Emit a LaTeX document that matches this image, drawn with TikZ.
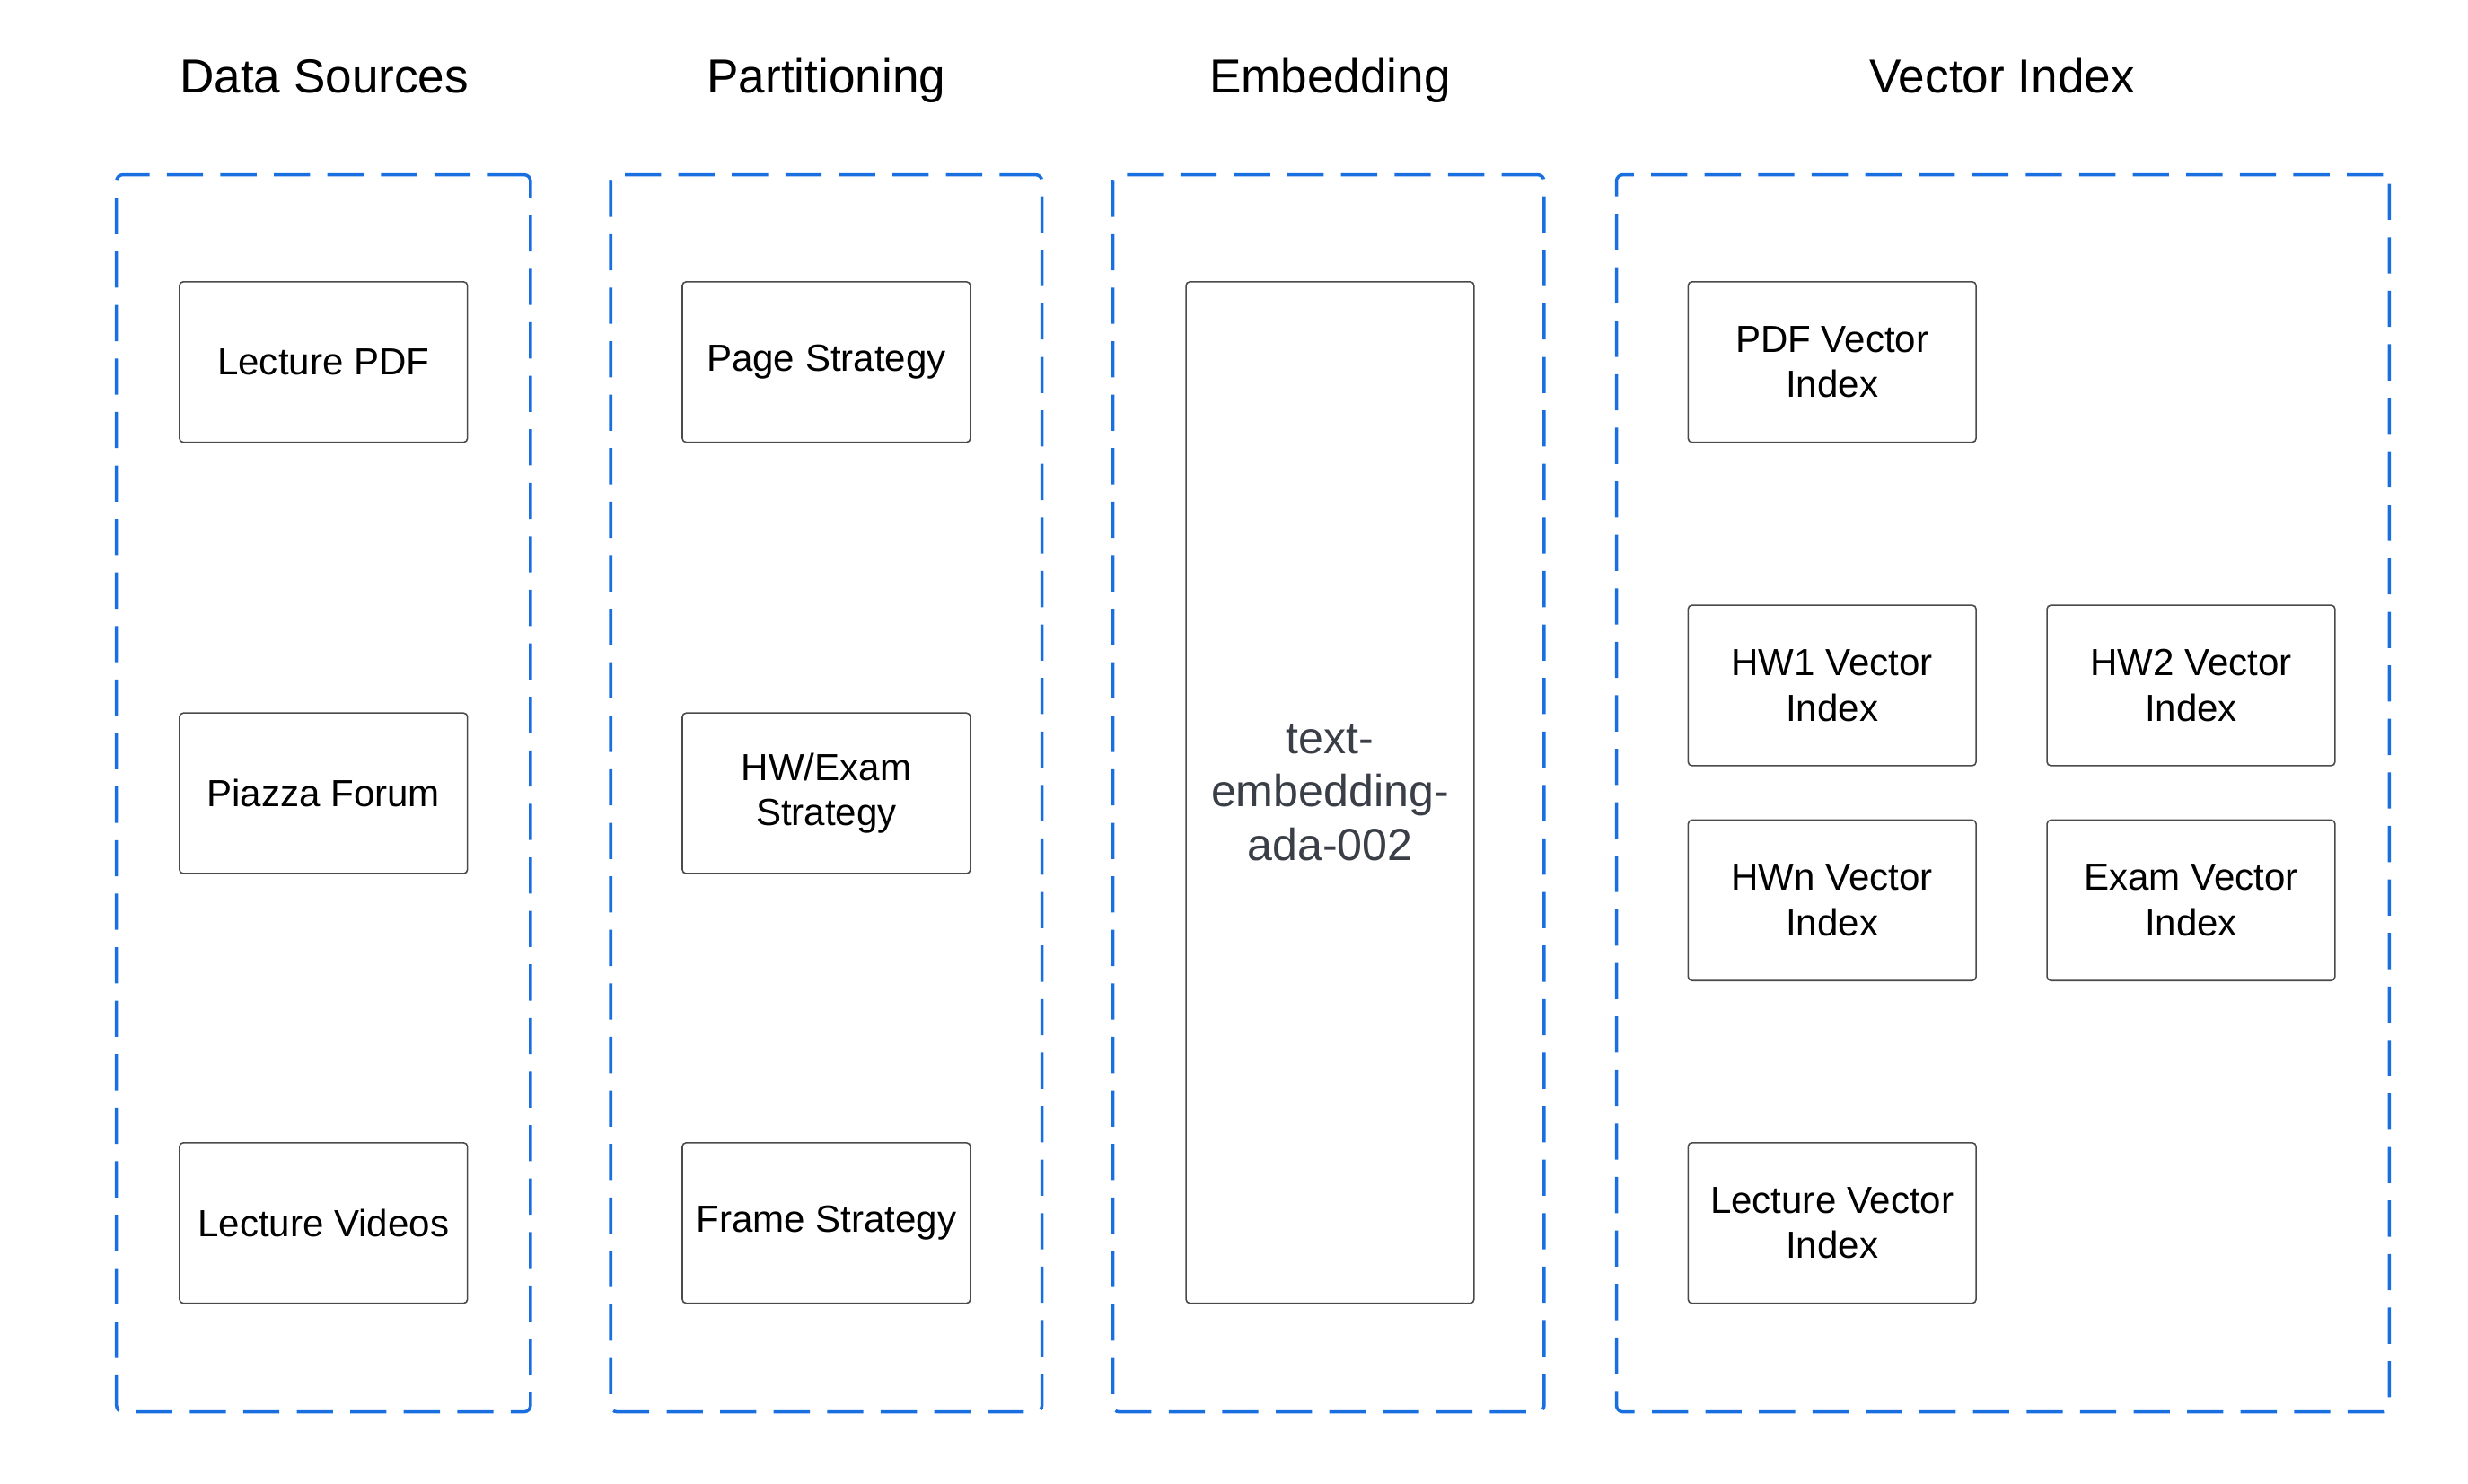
\documentclass[tikz,border=0pt]{standalone}
\usepackage{fontspec}
\setmainfont{Liberation Sans}
\usetikzlibrary{positioning}
\definecolor{groupblue}{HTML}{1A6FE0}
\definecolor{boxgray}{HTML}{4A4A4A}
\definecolor{embedtext}{HTML}{3A3F47}

\begin{document}
\begin{tikzpicture}[x=1pt, y=-1pt,
    every node/.append style={font=\fontsize{24}{29}\selectfont, inner sep=0pt},
    title/.style={anchor=base, font=\fontsize{30.3}{36}\selectfont},
    group/.style={draw=groupblue, line width=2pt, dash pattern=on 23pt off 11pt,
      rounded corners=4pt, minimum width=#1, minimum height=786pt},
    block/.style={draw=boxgray, line width=0.9pt, rounded corners=2.5pt, align=center,
      minimum width=183pt, minimum height=102pt}]
  \useasboundingbox (0,0) rectangle (1568,942.3);

  % column titles
  \node[title] (SourcesTitle) at (206,59) {Data Sources};
  \node[title] (PartTitle) at (525,59) {Partitioning};
  \node[title] (EmbedTitle) at (845,59) {Embedding};
  \node[title] (IndexTitle) at (1272,59) {Vector Index};

  % dashed groups
  \node[group=263pt] (Sources) at (205.5,504) {};
  \node[group=274pt] (Part) at (525,504) {};
  \node[group=274pt] (Embed) at (844,504) {};
  \node[group=491pt] (Index) at (1272.5,504) {};

  % data sources
  \node[block] (LecturePDF) at (205.5,230) {Lecture PDF};
  \node[block] (Piazza) at (205.5,504) {Piazza Forum};
  \node[block] (LectureVideos) at (205.5,777) {Lecture Videos};

  % partitioning
  \node[block] (PageStrategy) at (525,230) {Page Strategy};
  \node[block] (HWExamStrategy) at (525,504) {HW/Exam\\Strategy};
  \node[block] (FrameStrategy) at (525,777) {Frame Strategy};

  % embedding
  \node[block, minimum height=649pt, text=embedtext, font=\fontsize{28.6}{34}\selectfont]
    (Ada) at (845,503.5) {text-\\embedding-\\ada-002};

  % vector index
  \node[block] (PDFIndex) at (1164,230) {PDF Vector\\Index};
  \node[block] (HWOneIndex) at (1164,435.5) {HW1 Vector\\Index};
  \node[block] (HWTwoIndex) at (1392,435.5) {HW2 Vector\\Index};
  \node[block] (HWnIndex) at (1164,572) {HWn Vector\\Index};
  \node[block] (ExamIndex) at (1392,572) {Exam Vector\\Index};
  \node[block] (LectureIndex) at (1164,777) {Lecture Vector\\Index};
\end{tikzpicture}
\end{document}
